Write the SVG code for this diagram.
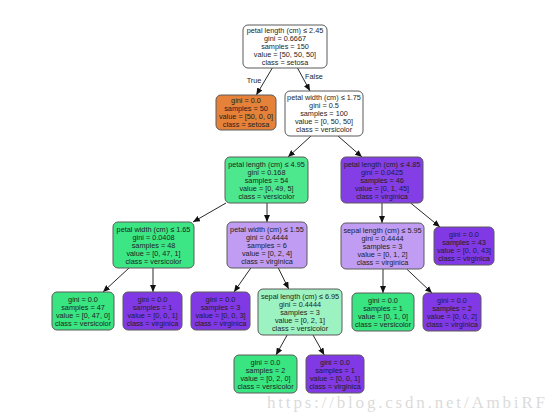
<svg xmlns="http://www.w3.org/2000/svg" width="558" height="414" viewBox="0 0 558 414">
<style>
.b{stroke:#5a5a5a;stroke-width:1}
.t{font-family:"Liberation Sans",Arial,sans-serif;font-size:7.3px;fill:#1e1e1e;text-anchor:middle}
.e{stroke:#2a2a2a;stroke-width:1;fill:none;marker-end:url(#ah)}
.l{font-family:"Liberation Sans",Arial,sans-serif;font-size:7.3px;fill:#1e1e1e;text-anchor:middle}
.wm{font-family:"Liberation Serif",serif;font-size:17px;fill:#d4d4d4;fill-opacity:0.85}
</style>
<defs>
<marker id="ah" markerWidth="7" markerHeight="6" refX="7" refY="3" orient="auto" markerUnits="userSpaceOnUse">
<path d="M0,0 L7,3 L0,6 Z" fill="#111"/>
</marker>
</defs>
<rect width="558" height="414" fill="#fff"/>
<g id="edges">
<line class="e" x1="272.3" y1="68" x2="256.3" y2="95"/>
<line class="e" x1="297.5" y1="68" x2="310" y2="91"/>
<line class="e" x1="311" y1="136" x2="288" y2="157"/>
<line class="e" x1="338" y1="136" x2="362" y2="157"/>
<line class="e" x1="226" y1="203" x2="193" y2="222"/>
<line class="e" x1="267" y1="203" x2="267" y2="222"/>
<line class="e" x1="382" y1="203" x2="382" y2="223"/>
<line class="e" x1="410.6" y1="203" x2="440" y2="227"/>
<line class="e" x1="129" y1="268" x2="103" y2="292"/>
<line class="e" x1="153" y1="268" x2="153" y2="292"/>
<line class="e" x1="250.8" y1="268" x2="234" y2="292"/>
<line class="e" x1="278.3" y1="268" x2="288.7" y2="289"/>
<line class="e" x1="383" y1="269" x2="383" y2="293"/>
<line class="e" x1="406.7" y1="269" x2="432" y2="293"/>
<line class="e" x1="287.2" y1="335" x2="276" y2="355"/>
<line class="e" x1="313" y1="335" x2="324.3" y2="355"/>
<text class="l" x="254" y="83">True</text>
<text class="l" x="314" y="79">False</text>
</g>
<g id="n0">
<rect class="b" x="243" y="25" width="84" height="43" rx="5" fill="#ffffff"/>
<text class="t" x="285" y="33.1">petal length (cm) ≤ 2.45</text>
<text class="t" x="285" y="41.1">gini = 0.6667</text>
<text class="t" x="285" y="49.1">samples = 150</text>
<text class="t" x="285" y="57.1">value = [50, 50, 50]</text>
<text class="t" x="285" y="65.1">class = setosa</text>
</g>
<g id="n1">
<rect class="b" x="216" y="95" width="60" height="35" rx="5" fill="#e58139"/>
<text class="t" x="246" y="103.1">gini = 0.0</text>
<text class="t" x="246" y="111.1">samples = 50</text>
<text class="t" x="246" y="119.1">value = [50, 0, 0]</text>
<text class="t" x="246" y="127.1">class = setosa</text>
</g>
<g id="n2">
<rect class="b" x="285" y="91" width="78" height="45" rx="5" fill="#ffffff"/>
<text class="t" x="324" y="100.1">petal width (cm) ≤ 1.75</text>
<text class="t" x="324" y="108.1">gini = 0.5</text>
<text class="t" x="324" y="116.1">samples = 100</text>
<text class="t" x="324" y="124.1">value = [0, 50, 50]</text>
<text class="t" x="324" y="132.1">class = versicolor</text>
</g>
<g id="n3">
<rect class="b" x="225" y="157" width="83" height="46" rx="5" fill="#4de88e"/>
<text class="t" x="266.5" y="166.6">petal length (cm) ≤ 4.95</text>
<text class="t" x="266.5" y="174.6">gini = 0.168</text>
<text class="t" x="266.5" y="182.6">samples = 54</text>
<text class="t" x="266.5" y="190.6">value = [0, 49, 5]</text>
<text class="t" x="266.5" y="198.6">class = versicolor</text>
</g>
<g id="n4">
<rect class="b" x="341" y="157" width="82" height="46" rx="5" fill="#843ee6"/>
<text class="t" x="382" y="166.6">petal length (cm) ≤ 4.85</text>
<text class="t" x="382" y="174.6">gini = 0.0425</text>
<text class="t" x="382" y="182.6">samples = 46</text>
<text class="t" x="382" y="190.6">value = [0, 1, 45]</text>
<text class="t" x="382" y="198.6">class = virginica</text>
</g>
<g id="n5">
<rect class="b" x="113" y="222" width="81" height="46" rx="5" fill="#3de684"/>
<text class="t" x="153.5" y="231.6">petal width (cm) ≤ 1.65</text>
<text class="t" x="153.5" y="239.6">gini = 0.0408</text>
<text class="t" x="153.5" y="247.6">samples = 48</text>
<text class="t" x="153.5" y="255.6">value = [0, 47, 1]</text>
<text class="t" x="153.5" y="263.6">class = versicolor</text>
</g>
<g id="n6">
<rect class="b" x="227" y="222" width="80" height="46" rx="5" fill="#c09cf2"/>
<text class="t" x="267" y="231.6">petal width (cm) ≤ 1.55</text>
<text class="t" x="267" y="239.6">gini = 0.4444</text>
<text class="t" x="267" y="247.6">samples = 6</text>
<text class="t" x="267" y="255.6">value = [0, 2, 4]</text>
<text class="t" x="267" y="263.6">class = virginica</text>
</g>
<g id="n7">
<rect class="b" x="341" y="223" width="83" height="46" rx="5" fill="#c09cf2"/>
<text class="t" x="382.5" y="232.6">sepal length (cm) ≤ 5.95</text>
<text class="t" x="382.5" y="240.6">gini = 0.4444</text>
<text class="t" x="382.5" y="248.6">samples = 3</text>
<text class="t" x="382.5" y="256.6">value = [0, 1, 2]</text>
<text class="t" x="382.5" y="264.6">class = virginica</text>
</g>
<g id="n8">
<rect class="b" x="434" y="227" width="60" height="38" rx="5" fill="#8139e5"/>
<text class="t" x="464" y="236.6">gini = 0.0</text>
<text class="t" x="464" y="244.6">samples = 43</text>
<text class="t" x="464" y="252.6">value = [0, 0, 43]</text>
<text class="t" x="464" y="260.6">class = virginica</text>
</g>
<g id="n9">
<rect class="b" x="52" y="292" width="62" height="38" rx="5" fill="#39e581"/>
<text class="t" x="83" y="301.6">gini = 0.0</text>
<text class="t" x="83" y="309.6">samples = 47</text>
<text class="t" x="83" y="317.6">value = [0, 47, 0]</text>
<text class="t" x="83" y="325.6">class = versicolor</text>
</g>
<g id="n10">
<rect class="b" x="123" y="292" width="59" height="38" rx="5" fill="#8139e5"/>
<text class="t" x="152.5" y="301.6">gini = 0.0</text>
<text class="t" x="152.5" y="309.6">samples = 1</text>
<text class="t" x="152.5" y="317.6">value = [0, 0, 1]</text>
<text class="t" x="152.5" y="325.6">class = virginica</text>
</g>
<g id="n11">
<rect class="b" x="191" y="292" width="59" height="38" rx="5" fill="#8139e5"/>
<text class="t" x="220.5" y="301.6">gini = 0.0</text>
<text class="t" x="220.5" y="309.6">samples = 3</text>
<text class="t" x="220.5" y="317.6">value = [0, 0, 3]</text>
<text class="t" x="220.5" y="325.6">class = virginica</text>
</g>
<g id="n12">
<rect class="b" x="258" y="289" width="84" height="46" rx="5" fill="#9cf2c0"/>
<text class="t" x="300" y="298.6">sepal length (cm) ≤ 6.95</text>
<text class="t" x="300" y="306.6">gini = 0.4444</text>
<text class="t" x="300" y="314.6">samples = 3</text>
<text class="t" x="300" y="322.6">value = [0, 2, 1]</text>
<text class="t" x="300" y="330.6">class = versicolor</text>
</g>
<g id="n13">
<rect class="b" x="352" y="293" width="62" height="38" rx="5" fill="#39e581"/>
<text class="t" x="383" y="302.6">gini = 0.0</text>
<text class="t" x="383" y="310.6">samples = 1</text>
<text class="t" x="383" y="318.6">value = [0, 1, 0]</text>
<text class="t" x="383" y="326.6">class = versicolor</text>
</g>
<g id="n14">
<rect class="b" x="423" y="293" width="58" height="38" rx="5" fill="#8139e5"/>
<text class="t" x="452" y="302.6">gini = 0.0</text>
<text class="t" x="452" y="310.6">samples = 2</text>
<text class="t" x="452" y="318.6">value = [0, 0, 2]</text>
<text class="t" x="452" y="326.6">class = virginica</text>
</g>
<g id="n15">
<rect class="b" x="234" y="355" width="63" height="38" rx="5" fill="#39e581"/>
<text class="t" x="265.5" y="364.6">gini = 0.0</text>
<text class="t" x="265.5" y="372.6">samples = 2</text>
<text class="t" x="265.5" y="380.6">value = [0, 2, 0]</text>
<text class="t" x="265.5" y="388.6">class = versicolor</text>
</g>
<g id="n16">
<rect class="b" x="306" y="355" width="58" height="38" rx="5" fill="#8139e5"/>
<text class="t" x="335" y="364.6">gini = 0.0</text>
<text class="t" x="335" y="372.6">samples = 1</text>
<text class="t" x="335" y="380.6">value = [0, 0, 1]</text>
<text class="t" x="335" y="388.6">class = virginica</text>
</g>
<text class="wm" x="267" y="408" textLength="278" lengthAdjust="spacing">https://blog.csdn.net/AmbiRF</text>
</svg>
